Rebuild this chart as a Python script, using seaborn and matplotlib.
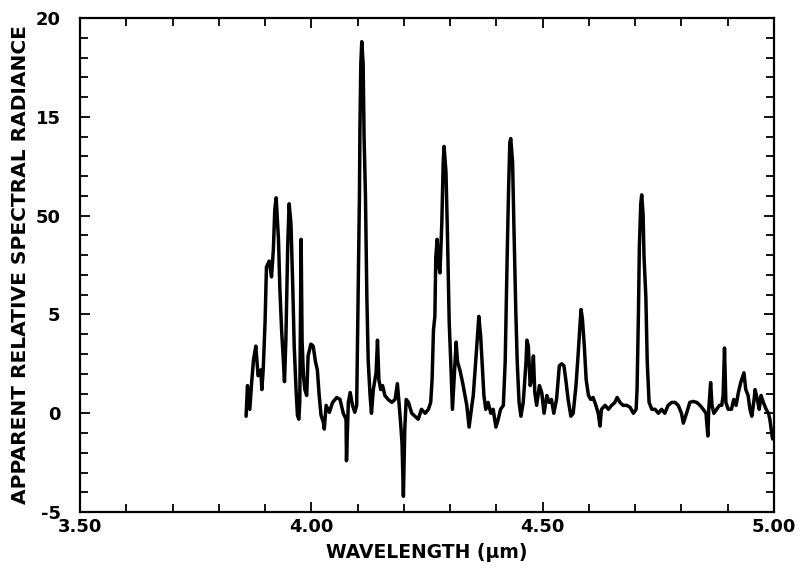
import matplotlib
matplotlib.use("Agg")
import matplotlib.pyplot as plt
from matplotlib.ticker import FixedLocator, MultipleLocator
import pandas as pd
import seaborn as sns

# Wavelength samples (micrometres) of the measured spectrum
wavelength_um = [
    3.859, 3.862, 3.867, 3.871, 3.875, 3.880, 3.885, 3.891, 3.893, 3.896,
    3.900, 3.903, 3.909, 3.914, 3.918, 3.921, 3.924, 3.929, 3.932, 3.936,
    3.939, 3.942, 3.945, 3.949, 3.952, 3.956, 3.960, 3.963, 3.967, 3.970,
    3.973, 3.975, 3.978, 3.980, 3.983, 3.986, 3.990, 3.993, 3.999, 4.004,
    4.009, 4.013, 4.017, 4.021, 4.026, 4.028, 4.032, 4.039, 4.046, 4.055,
    4.062, 4.069, 4.075, 4.076, 4.080, 4.084, 4.089, 4.094, 4.098, 4.101,
    4.104, 4.105, 4.107, 4.109, 4.112, 4.114, 4.117, 4.120, 4.123, 4.127,
    4.130, 4.134, 4.140, 4.143, 4.146, 4.150, 4.154, 4.159, 4.166, 4.174,
    4.181, 4.186, 4.190, 4.193, 4.196, 4.199, 4.202, 4.205, 4.210, 4.217,
    4.224, 4.231, 4.238, 4.246, 4.253, 4.258, 4.261, 4.264, 4.267, 4.269,
    4.272, 4.274, 4.278, 4.282, 4.285, 4.287, 4.291, 4.294, 4.298, 4.302,
    4.305, 4.309, 4.313, 4.316, 4.321, 4.327, 4.332, 4.336, 4.341, 4.347,
    4.350, 4.354, 4.357, 4.362, 4.366, 4.370, 4.373, 4.377, 4.382, 4.388,
    4.393, 4.399, 4.404, 4.409, 4.415, 4.419, 4.423, 4.426, 4.429, 4.431,
    4.435, 4.438, 4.442, 4.445, 4.449, 4.453, 4.458, 4.464, 4.466, 4.469,
    4.473, 4.476, 4.480, 4.483, 4.487, 4.493, 4.498, 4.503, 4.509, 4.514,
    4.519, 4.524, 4.530, 4.536, 4.541, 4.546, 4.550, 4.555, 4.561, 4.566,
    4.572, 4.577, 4.581, 4.583, 4.586, 4.590, 4.594, 4.599, 4.604, 4.609,
    4.615, 4.620, 4.624, 4.627, 4.635, 4.642, 4.649, 4.656, 4.661, 4.667,
    4.674, 4.682, 4.689, 4.696, 4.702, 4.704, 4.707, 4.709, 4.712, 4.714,
    4.717, 4.719, 4.723, 4.726, 4.730, 4.736, 4.743, 4.750, 4.757, 4.764,
    4.771, 4.779, 4.786, 4.793, 4.800, 4.804, 4.811, 4.818, 4.825, 4.833,
    4.840, 4.847, 4.853, 4.857, 4.859, 4.863, 4.866, 4.870, 4.876, 4.882,
    4.887, 4.890, 4.893, 4.896, 4.901, 4.908, 4.913, 4.918, 4.923, 4.928,
    4.935, 4.939, 4.944, 4.948, 4.952, 4.957, 4.959, 4.964, 4.968, 4.972,
    4.977, 4.983, 4.988, 4.991, 4.995, 4.997,
]

# Apparent relative spectral radiance at each wavelength sample
radiance = [
    -0.15, 1.4, 0.2, 1.55, 2.7, 3.4, 1.9, 2.2, 1.2, 2.2,
    4.6, 7.4, 7.7, 6.9, 8.3, 10.3, 10.9, 8.8, 6.3, 4.1,
    2.9, 1.6, 3.7, 8.5, 10.6, 9.6, 6.3, 3.4, 1.2, -0.1,
    -0.3, 0.55, 8.8, 3.7, 1.9, 1.2, 0.9, 2.9, 3.5, 3.4,
    2.6, 2.2, 0.9, -0.1, -0.45, -0.8, 0.4, 0.05, 0.55, 0.8,
    0.7, 0.0, -0.3, -2.4, 0.55, 1.05, 0.4, 0.05, 0.4, 5.9,
    11.0, 14.3, 17.7, 18.8, 17.7, 14.0, 11.0, 5.9, 2.6, 0.9,
    0.0, 1.2, 2.05, 3.7, 1.7, 1.2, 1.4, 0.9, 0.7, 0.55,
    0.7, 1.5, 0.4, -0.5, -1.5, -4.2, -0.8, 0.7, 0.55, 0.0,
    -0.15, -0.3, 0.2, 0.0, 0.2, 0.55, 1.7, 4.2, 4.9, 7.9,
    8.8, 7.6, 7.1, 9.6, 12.7, 13.5, 12.2, 9.3, 4.6, 2.2,
    0.2, 1.9, 3.6, 2.6, 2.2, 1.55, 0.9, 0.4, -0.7, 0.4,
    0.9, 2.2, 3.2, 4.9, 3.9, 2.2, 0.9, 0.2, 0.55, 0.0,
    0.2, -0.7, -0.3, 0.2, 0.4, 2.6, 7.6, 11.0, 13.7, 13.9,
    12.7, 9.3, 5.1, 2.6, 0.55, -0.15, 0.55, 2.6, 3.7, 3.4,
    1.4, 1.7, 2.9, 1.05, 0.4, 1.4, 1.05, 0.0, 0.9, 0.55,
    0.7, 0.0, 0.7, 2.4, 2.5, 2.4, 1.7, 0.7, -0.15, 0.0,
    1.4, 3.1, 4.6, 5.25, 4.75, 3.4, 1.7, 0.9, 0.7, 0.8,
    0.4, 0.0, -0.65, 0.2, 0.4, 0.2, 0.4, 0.55, 0.8, 0.55,
    0.4, 0.4, 0.3, 0.0, 0.2, 1.2, 5.1, 8.45, 10.6, 11.05,
    10.1, 7.95, 5.9, 2.6, 0.55, 0.2, 0.2, 0.0, 0.2, 0.0,
    0.4, 0.55, 0.55, 0.4, 0.0, -0.5, 0.0, 0.55, 0.6, 0.55,
    0.4, 0.2, 0.0, -1.15, 0.2, 1.55, 0.4, 0.0, 0.2, 0.4,
    0.4, 0.9, 3.3, 0.55, 0.2, 0.2, 0.7, 0.4, 1.05, 1.55,
    2.05, 1.2, 0.9, 0.2, -0.15, 0.7, 1.2, 0.7, 0.2, 0.9,
    0.55, 0.2, 0.0, -0.3, -1.0, -1.3,
]

# Axis tick values and their printed labels
x_major_ticks = [3.5, 4.0, 4.5, 5.0]
x_tick_labels = ["3.50", "4.00", "4.50", "5.00"]
y_major_ticks = [-5, 0, 5, 10, 15, 20]
y_tick_labels = ["-5", "0", "5", "50", "15", "20"]

spectrum = pd.DataFrame({"wavelength": wavelength_um, "radiance": radiance})

sns.set_theme(style="ticks")
plt.rcParams["font.family"] = ["DejaVu Sans"]
plt.rcParams["font.weight"] = "bold"

fig = plt.figure(figsize=(8.03, 5.69), dpi=100)
ax = fig.add_axes([0.0996, 0.100, 0.8643, 0.8684])

sns.lineplot(data=spectrum, x="wavelength", y="radiance", sort=False,
             estimator=None, color="black", linewidth=2.5, ax=ax)

ax.set_xlim(3.5, 5.0)
ax.set_ylim(-5, 20)

ax.xaxis.set_major_locator(FixedLocator(x_major_ticks))
ax.set_xticklabels(x_tick_labels)
ax.xaxis.set_minor_locator(MultipleLocator(0.1))
ax.yaxis.set_major_locator(FixedLocator(y_major_ticks))
ax.set_yticklabels(y_tick_labels)
ax.yaxis.set_minor_locator(MultipleLocator(1))

ax.tick_params(which="both", direction="in", top=True, right=True,
               color="black", width=1.3)
ax.tick_params(which="major", length=7.5)
ax.tick_params(which="minor", length=5.5)
ax.tick_params(axis="x", which="major", pad=4, labelsize=13)
ax.tick_params(axis="y", which="major", pad=14, labelsize=13)
for lab in ax.get_xticklabels() + ax.get_yticklabels():
    lab.set_fontweight("bold")
    lab.set_color("black")

for side in ["left", "right", "top", "bottom"]:
    ax.spines[side].set_visible(True)
    ax.spines[side].set_color("black")
    ax.spines[side].set_linewidth(1.6)

ax.set_xlabel("WAVELENGTH (\u00b5m)", fontsize=13.5, fontweight="bold",
              color="black", labelpad=5)
ax.set_ylabel("APPARENT RELATIVE SPECTRAL RADIANCE", fontsize=14.5,
              fontweight="bold", color="black", labelpad=4)
ax.grid(False)

fig.savefig("out.png", dpi=100, facecolor="white")
